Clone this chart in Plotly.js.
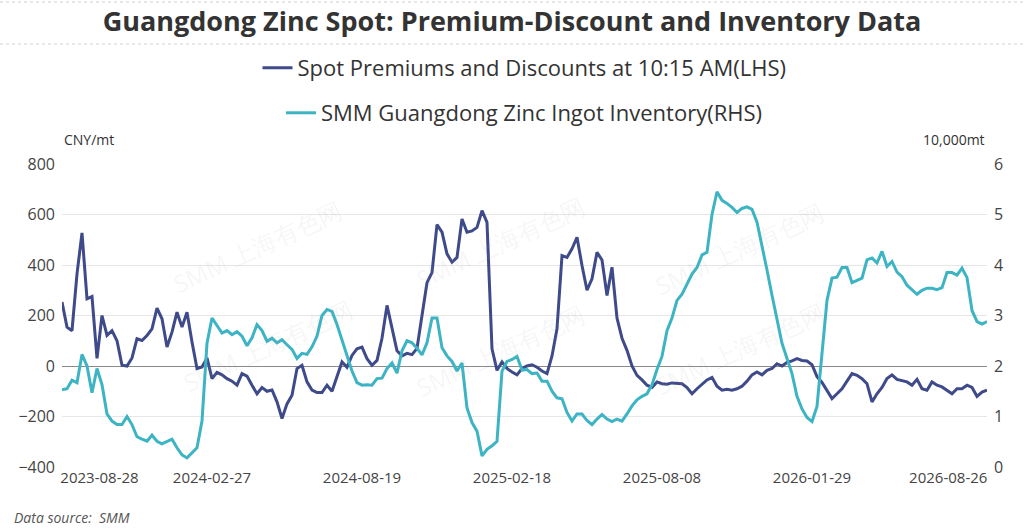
<!DOCTYPE html>
<html>
<head>
<meta charset="utf-8">
<script src="https://cdn.plot.ly/plotly-3.0.1.min.js"></script>
<style>html,body{margin:0;padding:0;background:#fff;}#chart{width:1024px;height:531px;}</style>
</head>
<body>
<div id="chart"></div>
<script>
// Tick labels (dates) and their positions in trading-day index units
const tickLabels = ['2023-08-28','2024-02-27','2024-08-19','2025-02-18','2025-08-08','2026-01-29','2026-08-26'];
const tickDays = [30, 120, 240, 360, 480, 600, 709];
// one sample every 4 trading days
const dayStep = 4;

// Spot premiums and discounts at 10:15 AM (CNY/mt, LHS)
const premium = [
  253,154,140,365,527,266,275,30,200,121,
  140,100,3,0,32,108,101,121,147,229,
  187,75,134,213,154,213,95,-10,-4,32,
  -50,-25,-35,-50,-60,-76,-30,-40,-76,-110,
  -85,-100,-95,-142,-208,-150,-116,-10,3,-63,
  -95,-105,-105,-76,-100,-45,16,-5,42,68,
  75,29,3,22,110,240,148,60,40,50,
  45,70,200,330,370,560,530,444,411,430,
  582,530,535,549,615,569,68,-17,16,-10,
  -24,-35,-10,0,5,-5,-20,-30,40,147,
  437,430,464,510,398,300,345,450,420,279,
  391,190,110,62,0,-37,-55,-76,-85,-63,
  -70,-72,-67,-68,-70,-85,-110,-90,-72,-55,
  -45,-80,-96,-92,-96,-90,-80,-60,-35,-24,
  -35,-17,-10,9,0,14,20,29,22,20,
  5,-42,-65,-100,-129,-110,-90,-60,-30,-37,
  -50,-70,-142,-110,-85,-50,-35,-53,-57,-63,
  -76,-53,-90,-96,-63,-76,-83,-96,-110,-90,
  -90,-76,-85,-120,-103,-96
];

// SMM Guangdong zinc ingot inventory (10,000 mt, RHS)
const inventory = [
  1.53,1.55,1.72,1.67,2.23,2.00,1.47,1.95,1.63,1.05,
  0.91,0.84,0.84,1.00,0.84,0.60,0.55,0.51,0.63,0.51,
  0.46,0.51,0.55,0.38,0.24,0.18,0.28,0.38,0.91,2.45,
  2.95,2.80,2.65,2.70,2.62,2.68,2.59,2.40,2.56,2.82,
  2.70,2.49,2.55,2.46,2.52,2.42,2.33,2.15,2.25,2.23,
  2.38,2.59,3.00,3.12,3.08,2.82,2.50,2.23,1.90,1.67,
  1.62,1.63,1.62,1.75,1.76,1.95,2.06,1.86,2.30,2.50,
  2.46,2.35,2.22,2.46,2.95,2.95,2.36,2.20,2.09,1.90,
  2.06,1.17,0.88,0.71,0.22,0.35,0.42,0.51,1.90,2.09,
  2.13,2.19,1.92,1.93,1.85,1.86,1.70,1.70,1.50,1.37,
  1.35,1.08,0.91,1.05,1.05,0.92,0.84,0.95,1.04,0.95,
  0.90,0.95,0.91,1.05,1.21,1.33,1.40,1.45,1.63,1.93,
  2.19,2.70,2.95,3.30,3.42,3.62,3.82,3.95,4.20,4.25,
  5.00,5.45,5.28,5.22,5.14,5.04,5.12,5.15,5.10,4.85,
  4.40,3.90,3.40,2.90,2.45,2.15,1.85,1.40,1.15,0.98,
  0.90,1.20,2.30,3.30,3.74,3.76,3.95,3.95,3.65,3.70,
  3.74,4.10,4.14,4.04,4.27,3.97,4.07,3.86,3.77,3.60,
  3.51,3.42,3.50,3.54,3.54,3.51,3.55,3.85,3.85,3.80,
  3.94,3.75,3.10,2.88,2.83,2.88
];

const xPrem = premium.map((_, i) => i * dayStep);
const xInv = inventory.map((_, i) => i * dayStep);
const lastDay = (premium.length - 1) * dayStep;

const FONT = '"Open Sans", "Noto Sans", sans-serif';

const traces = [
  {
    x: xPrem, y: premium, type: 'scatter', mode: 'lines',
    name: 'Spot Premiums and Discounts at 10:15 AM(LHS)',
    line: {color: '#3E4A89', width: 3},
    yaxis: 'y', legend: 'legend'
  },
  {
    x: xInv, y: inventory, type: 'scatter', mode: 'lines',
    name: 'SMM Guangdong Zinc Ingot Inventory(RHS)',
    line: {color: '#3DB4C4', width: 3},
    yaxis: 'y2', legend: 'legend2'
  }
];

const wm = [];
[[165,190],[500,186],[832,192],[175,345],[500,350],[832,348]].forEach(p => {
  wm.push({
    text: 'SMM 上海有色网', xref: 'paper', yref: 'paper',
    x: (p[0] - 62) / 925, y: (467 - p[1]) / 303,
    showarrow: false, textangle: -25,
    font: {family: FONT, size: 24, color: 'rgba(160,160,160,0.10)'}
  });
});

const layout = {
  width: 1024, height: 531,
  paper_bgcolor: '#ffffff', plot_bgcolor: '#ffffff',
  margin: {l: 62, r: 37, t: 164, b: 64},
  font: {family: FONT, color: '#444'},
  title: {
    text: 'Guangdong Zinc Spot: Premium-Discount and Inventory Data',
    x: 0.5, xanchor: 'center', y: 1 - 22 / 531, yanchor: 'middle',
    font: {family: FONT, size: 27, color: '#333', weight: 'bold'}
  },
  showlegend: true,
  legend: {
    orientation: 'h', x: 0.5, xanchor: 'center', y: (467 - 68) / 303, yanchor: 'middle',
    font: {family: FONT, size: 22, color: '#333'}, bgcolor: 'rgba(0,0,0,0)'
  },
  legend2: {
    orientation: 'h', x: 0.5, xanchor: 'center', y: (467 - 113) / 303, yanchor: 'middle',
    font: {family: FONT, size: 22, color: '#333'}, bgcolor: 'rgba(0,0,0,0)'
  },
  xaxis: {
    range: [0, lastDay], tickmode: 'array', tickvals: tickDays, ticktext: tickLabels,
    showgrid: false, zeroline: false, showline: false, ticks: '',
    tickfont: {family: FONT, size: 15, color: '#444'}
  },
  yaxis: {
    range: [-400, 800], dtick: 200, tick0: 0,
    showgrid: true, gridcolor: '#e6e6e6', gridwidth: 1,
    zeroline: true, zerolinecolor: '#8a8a8a', zerolinewidth: 1,
    showline: false, ticks: '', ticklabelstandoff: 6,
    tickfont: {family: FONT, size: 16, color: '#444'}
  },
  yaxis2: {
    range: [0, 6], dtick: 1, tick0: 0, overlaying: 'y', side: 'right',
    showgrid: false, zeroline: false, showline: false, ticks: '', ticklabelstandoff: 6,
    tickfont: {family: FONT, size: 16, color: '#444'}
  },
  shapes: [
    {type: 'line', xref: 'paper', yref: 'paper', x0: -62/925, x1: 962/925,
     y0: (467 - 2) / 303, y1: (467 - 2) / 303, line: {color: '#d0d0d0', width: 1, dash: 'dot'}},
    {type: 'line', xref: 'paper', yref: 'paper', x0: -62/925, x1: 962/925,
     y0: (467 - 44) / 303, y1: (467 - 44) / 303, line: {color: '#d0d0d0', width: 1, dash: 'dot'}}
  ],
  annotations: wm.concat([
    {text: 'CNY/mt', xref: 'paper', yref: 'paper', x: 0, xanchor: 'left',
     y: (467 - 140) / 303, yanchor: 'middle', showarrow: false,
     font: {family: FONT, size: 14, color: '#333'}},
    {text: '10,000mt', xref: 'paper', yref: 'paper', x: 1, xanchor: 'right',
     y: (467 - 140) / 303, yanchor: 'middle', showarrow: false,
     font: {family: FONT, size: 14, color: '#333'}},
    {text: 'Data source:  SMM', xref: 'paper', yref: 'paper', x: (12 - 62) / 925, xanchor: 'left',
     y: (467 - 517) / 303, yanchor: 'middle', showarrow: false,
     font: {family: FONT, size: 14, color: '#555', style: 'italic'}}
  ])
};

Plotly.newPlot('chart', traces, layout, {staticPlot: true, displayModeBar: false});
</script>
</body>
</html>
